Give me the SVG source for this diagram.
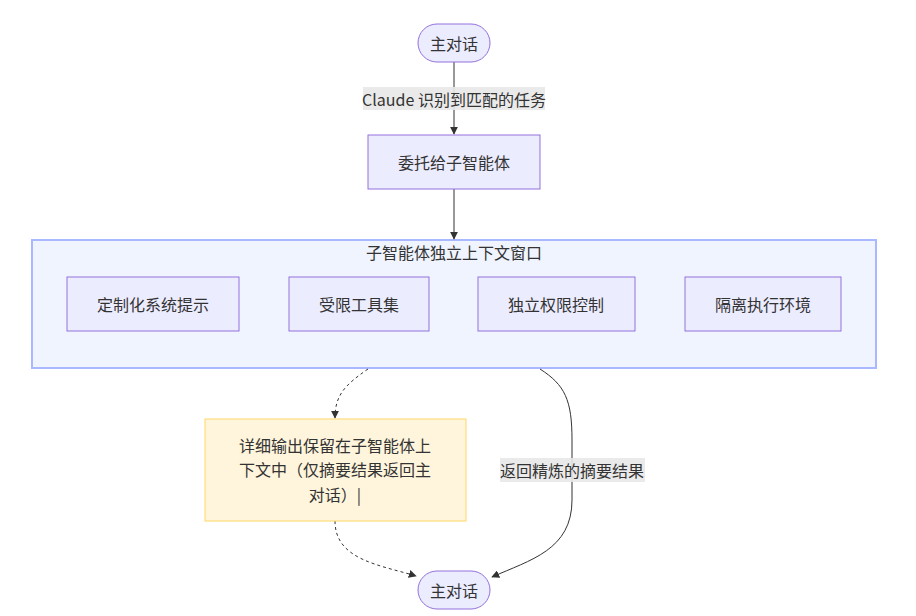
<svg xmlns="http://www.w3.org/2000/svg" width="916" height="616" viewBox="0 0 916 616">
<defs>
<style>
text{font-family:"Noto Sans CJK SC","Noto Sans","DejaVu Sans",sans-serif;font-size:16px;fill:#333;text-anchor:middle;dominant-baseline:central}
.node{fill:#ECECFF;stroke:#9370DB;stroke-width:1}
.cluster{fill:#F0F4FF;stroke:#AAB8FF;stroke-width:2}
.note{fill:#FFF5DC;stroke:#FFD866;stroke-width:1}
.edge{fill:none;stroke:#333;stroke-width:1}
.dot{stroke-dasharray:3 3}
.lbl{fill:#E8E8E8;fill-opacity:0.9}
</style>
<marker id="arr" viewBox="0 0 10 10" refX="9" refY="5" markerWidth="8" markerHeight="8" orient="auto-start-reverse" markerUnits="userSpaceOnUse">
<path d="M0,0 L10,5 L0,10 z" fill="#333"/>
</marker>
</defs>
<rect width="916" height="616" fill="#fff"/>
<g id="cluster">
<rect class="cluster" x="32" y="240" width="844" height="128"/>
<text x="454" y="252">子智能体独立上下文窗口</text>
</g>
<g id="connectors">
<path class="edge" d="M454,62 V134" marker-end="url(#arr)"/>
<path class="edge" d="M454,189 V239" marker-end="url(#arr)"/>
<path class="edge dot" d="M368,369 C345,385 335,395 335,418" marker-end="url(#arr)"/>
<path class="edge dot" d="M335,521 C335,560 380,565 416,576" marker-end="url(#arr)"/>
<path class="edge" d="M540,369 C565,385 572,400 572,440 V500 C572,550 530,560 492,577" marker-end="url(#arr)"/>
<rect class="lbl" x="363" y="87" width="182" height="23"/>
<text x="454" y="99">Claude 识别到匹配的任务</text>
<rect class="lbl" x="500" y="458" width="145" height="24"/>
<text x="572" y="470">返回精炼的摘要结果</text>
</g>
<g id="main-top">
<rect class="node" x="418" y="24" width="72" height="38" rx="19"/>
<text x="454" y="43">主对话</text>
</g>
<g id="delegate">
<rect class="node" x="368" y="135" width="172" height="54"/>
<text x="454" y="162">委托给子智能体</text>
</g>
<g id="sys-prompt">
<rect class="node" x="67" y="277" width="172" height="54"/>
<text x="153" y="304">定制化系统提示</text>
</g>
<g id="tools">
<rect class="node" x="289" y="277" width="140" height="54"/>
<text x="359" y="304">受限工具集</text>
</g>
<g id="perm">
<rect class="node" x="478" y="277" width="157" height="54"/>
<text x="556" y="304">独立权限控制</text>
</g>
<g id="env">
<rect class="node" x="685" y="277" width="156" height="54"/>
<text x="763" y="304">隔离执行环境</text>
</g>
<g id="note">
<rect class="note" x="205" y="419" width="261" height="102"/>
<text x="335" y="445">详细输出保留在子智能体上</text>
<text x="335" y="469">下文中（仅摘要结果返回主</text>
<text x="335" y="494">对话）|</text>
</g>
<g id="main-bottom">
<rect class="node" x="418" y="571" width="72" height="38" rx="19"/>
<text x="454" y="590">主对话</text>
</g>
</svg>
